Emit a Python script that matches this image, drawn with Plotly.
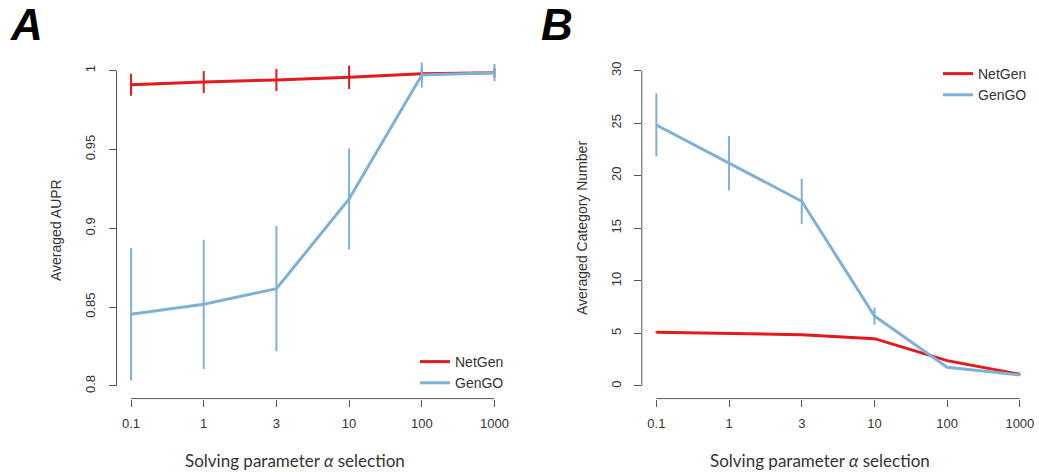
import plotly.graph_objects as go

alpha_labels = ["0.1", "1", "3", "10", "100", "1000"]

# Panel A: Averaged AUPR
aupr_netgen = [0.991, 0.9928, 0.9941, 0.9958, 0.998, 0.9987]
aupr_netgen_err = [0.007, 0.007, 0.007, 0.0075, 0.004, 0.003]
aupr_gengo = [0.8455, 0.8518, 0.8617, 0.9186, 0.9972, 0.9987]
aupr_gengo_err = [0.042, 0.041, 0.0397, 0.032, 0.008, 0.0055]

# Panel B: Averaged Category Number
cat_netgen = [5.1, 5.0, 4.88, 4.5, 2.41, 1.11]
cat_netgen_err = [0.05, 0.05, 0.05, 0.05, 0.05, 0.05]
cat_gengo = [24.83, 21.19, 17.57, 6.66, 1.78, 1.05]
cat_gengo_err = [3.0, 2.6, 2.15, 0.8, 0.1, 0.05]

RED = "#E41A1C"
BLUE = "#7FB1D6"
AXC = "#555555"
TXT = "#333333"
W, H = 1039, 472

xidx = list(range(len(alpha_labels)))

fig = go.Figure()

def add_pair(xa, ya, ng, ng_err, gg, gg_err, legend, showlegend=True):
    fig.add_trace(go.Scatter(
        x=xidx, y=ng, mode="lines", name="NetGen",
        line=dict(color=RED, width=3),
        error_y=dict(type="data", array=ng_err, visible=True, color=RED, thickness=2, width=0),
        xaxis=xa, yaxis=ya, legend=legend, showlegend=showlegend))
    fig.add_trace(go.Scatter(
        x=xidx, y=gg, mode="lines", name="GenGO",
        line=dict(color=BLUE, width=3),
        error_y=dict(type="data", array=gg_err, visible=True, color=BLUE, thickness=2, width=0),
        xaxis=xa, yaxis=ya, legend=legend, showlegend=showlegend))

add_pair("x", "y", aupr_netgen, aupr_netgen_err, aupr_gengo, aupr_gengo_err, "legend")
add_pair("x2", "y2", cat_netgen, cat_netgen_err, cat_gengo, cat_gengo_err, "legend2")

ydom = [1 - 398.6 / H, 1 - 58 / H]
xdomA = [116.5 / W, 509 / W]
xdomB = [641.8 / W, 1034.4 / W]

tickfont = dict(family="Liberation Sans, Arial, sans-serif", size=13, color=TXT)
xcommon = dict(range=[-0.2, 5.2], tickmode="array", tickvals=xidx, ticktext=alpha_labels,
               showgrid=False, zeroline=False, showline=False, ticks="outside",
               ticklen=7, tickwidth=1, tickcolor=AXC, tickfont=tickfont,
               ticklabelstandoff=6)
ycommon = dict(showgrid=False, zeroline=False, showline=False, ticks="outside",
               ticklen=7, tickwidth=1, tickcolor=AXC, tickfont=tickfont,
               tickangle=-90, ticklabelstandoff=8)

legfont = dict(family="Liberation Sans, Arial, sans-serif", size=14, color=TXT)
fig.update_layout(
    width=W, height=H,
    margin=dict(l=0, r=0, t=0, b=0),
    paper_bgcolor="white", plot_bgcolor="white",
    xaxis=dict(domain=xdomA, anchor="y", **xcommon),
    yaxis=dict(domain=ydom, anchor="x", range=[0.792, 1.008],
               tickvals=[0.8, 0.85, 0.9, 0.95, 1.0],
               ticktext=["0.8", "0.85", "0.9", "0.95", "1"], **ycommon),
    xaxis2=dict(domain=xdomB, anchor="y2", **xcommon),
    yaxis2=dict(domain=ydom, anchor="x2", range=[-1.2, 31.2],
                tickvals=[0, 5, 10, 15, 20, 25, 30], **ycommon),
    legend=dict(x=415 / W, y=1 - 346 / H, xanchor="left", yanchor="top",
                bgcolor="rgba(0,0,0,0)", font=legfont, tracegroupgap=0, itemwidth=30),
    legend2=dict(x=938 / W, y=1 - 58 / H, xanchor="left", yanchor="top",
                 bgcolor="rgba(0,0,0,0)", font=legfont, tracegroupgap=0, itemwidth=30),
    showlegend=True,
)

# R-style axis lines spanning first to last tick
for xa, ya, ylo, yhi in [("x", "y", 0.8, 1.0), ("x2", "y2", 0, 30)]:
    fig.add_shape(type="line", xref=xa, yref=f"{ya} domain", x0=0, x1=5, y0=0, y1=0,
                  line=dict(color=AXC, width=1))
    fig.add_shape(type="line", xref=f"{xa} domain", yref=ya, x0=0, x1=0, y0=ylo, y1=yhi,
                  line=dict(color=AXC, width=1))

xtitle = "Solving parameter <i>α</i> selection"
for cx in [295 / W, 820 / W]:
    fig.add_annotation(text=xtitle, xref="paper", yref="paper", x=cx, y=1 - 460 / H,
                       showarrow=False, xanchor="center", yanchor="middle",
                       font=dict(family="Lato, Open Sans, sans-serif", size=17, color=TXT))

fig.add_annotation(text="Averaged AUPR", xref="paper", yref="paper", x=56 / W, y=1 - 230 / H,
                   showarrow=False, textangle=-90, xanchor="center", yanchor="middle",
                   font=dict(family="Liberation Sans, Arial, sans-serif", size=14, color=TXT))
fig.add_annotation(text="Averaged Category Number", xref="paper", yref="paper", x=582 / W, y=1 - 228 / H,
                   showarrow=False, textangle=-90, xanchor="center", yanchor="middle",
                   font=dict(family="Liberation Sans, Arial, sans-serif", size=14, color=TXT))

for lab, px in [("A", 8), ("B", 539)]:
    fig.add_annotation(text=f"<b><i>{lab}</i></b>", xref="paper", yref="paper", x=px / W, y=1 - 25 / H,
                       showarrow=False, xanchor="left", yanchor="middle",
                       font=dict(family="Liberation Sans, Arial, sans-serif", size=44, color="black"))

fig.write_html("out.html", config={"displayModeBar": False},
               post_script="document.body.style.margin='0px';")
